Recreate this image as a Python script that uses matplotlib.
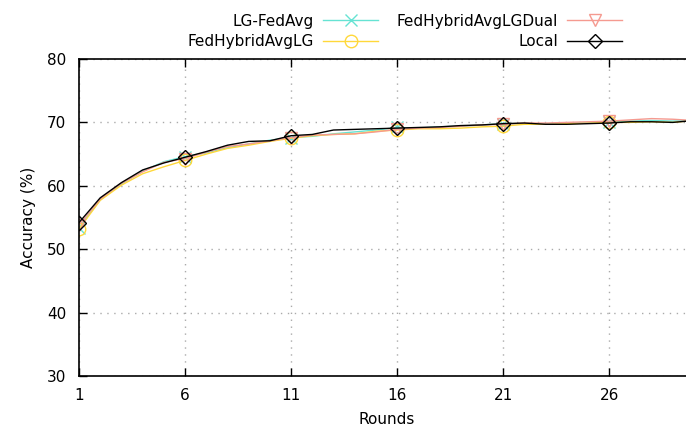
import matplotlib
matplotlib.use('Agg')
import matplotlib.pyplot as plt
import numpy as np

# accuracy per round for each method
rounds = np.arange(1, 31)
lg_fedavg = [53.4, 57.8, 60.3, 62.3, 63.8, 64.6, 65.2, 66.0, 66.6, 67.2,
             67.6, 67.8, 68.2, 68.5, 68.8, 69.2, 69.1, 69.3, 69.4, 69.6,
             69.8, 69.8, 69.8, 69.9, 70.0, 70.1, 70.2, 70.3, 70.2, 70.3]
hybrid_lg = [53.2, 57.7, 60.1, 61.9, 63.0, 64.0, 65.0, 65.9, 66.4, 67.0,
             67.5, 67.9, 68.1, 68.2, 68.6, 68.8, 69.0, 69.0, 69.1, 69.3,
             69.4, 69.7, 69.7, 69.8, 69.9, 70.0, 70.0, 70.1, 70.0, 70.3]
hybrid_lg_dual = [53.8, 57.9, 60.4, 62.2, 63.7, 64.3, 65.3, 66.2, 66.6, 67.1,
                  67.6, 68.0, 68.1, 68.2, 68.5, 68.9, 69.1, 69.2, 69.4, 69.6,
                  69.7, 69.9, 69.9, 70.0, 70.1, 70.2, 70.4, 70.6, 70.5, 70.3]
local = [54.2, 58.1, 60.5, 62.5, 63.6, 64.5, 65.4, 66.4, 67.0, 67.1,
         67.9, 68.1, 68.8, 68.9, 69.0, 69.1, 69.2, 69.3, 69.5, 69.6,
         69.8, 69.9, 69.7, 69.7, 69.8, 69.9, 70.1, 70.1, 70.0, 70.3]

xticks = [1, 6, 11, 16, 21, 26]
yticks = [30, 40, 50, 60, 70, 80]

fig = plt.figure(figsize=(6.86, 4.30), dpi=100)
# x axis runs to round 30, a bit past the right edge of the canvas
ax = fig.add_axes([79/686, 54/430, 615/686, 317/430])

ax.plot(rounds, lg_fedavg, color='#66e3d3', lw=1, marker='x', ms=9, mew=1,
        markevery=5, label='LG-FedAvg')
ax.plot(rounds, hybrid_lg, color='#ffd83a', lw=1, marker='o', ms=9, mfc='none', mew=1,
        markevery=5, label='FedHybridAvgLG')
ax.plot(rounds, hybrid_lg_dual, color='#f59a90', lw=1, marker='v', ms=9, mfc='none', mew=1,
        markevery=5, label='FedHybridAvgLGDual')
ax.plot(rounds, local, color='black', lw=1, marker='D', ms=7, mfc='none', mew=1,
        markevery=5, label='Local')

ax.set_xlim(1, 30)
ax.set_ylim(30, 80)
ax.set_xticks(xticks)
ax.set_yticks(yticks)
ax.tick_params(direction='in', length=6, width=1, top=True, right=True,
               labelsize=11, pad=9)
ax.grid(True, color='#aaaaaa', linestyle=(0, (1, 4)), linewidth=1)
for s in ax.spines.values():
    s.set_linewidth(1.2)

ax.set_xlabel('Rounds', fontsize=11, labelpad=6)
ax.set_ylabel('Accuracy (%)', fontsize=11, labelpad=8)

fig.legend(loc='upper right', bbox_to_anchor=(636/686, 1.0), ncol=2,
           markerfirst=False, frameon=False, fontsize=11, handlelength=3.6,
           columnspacing=1.2, labelspacing=0.35, handletextpad=0.6)

fig.savefig('out.png', dpi=100)
